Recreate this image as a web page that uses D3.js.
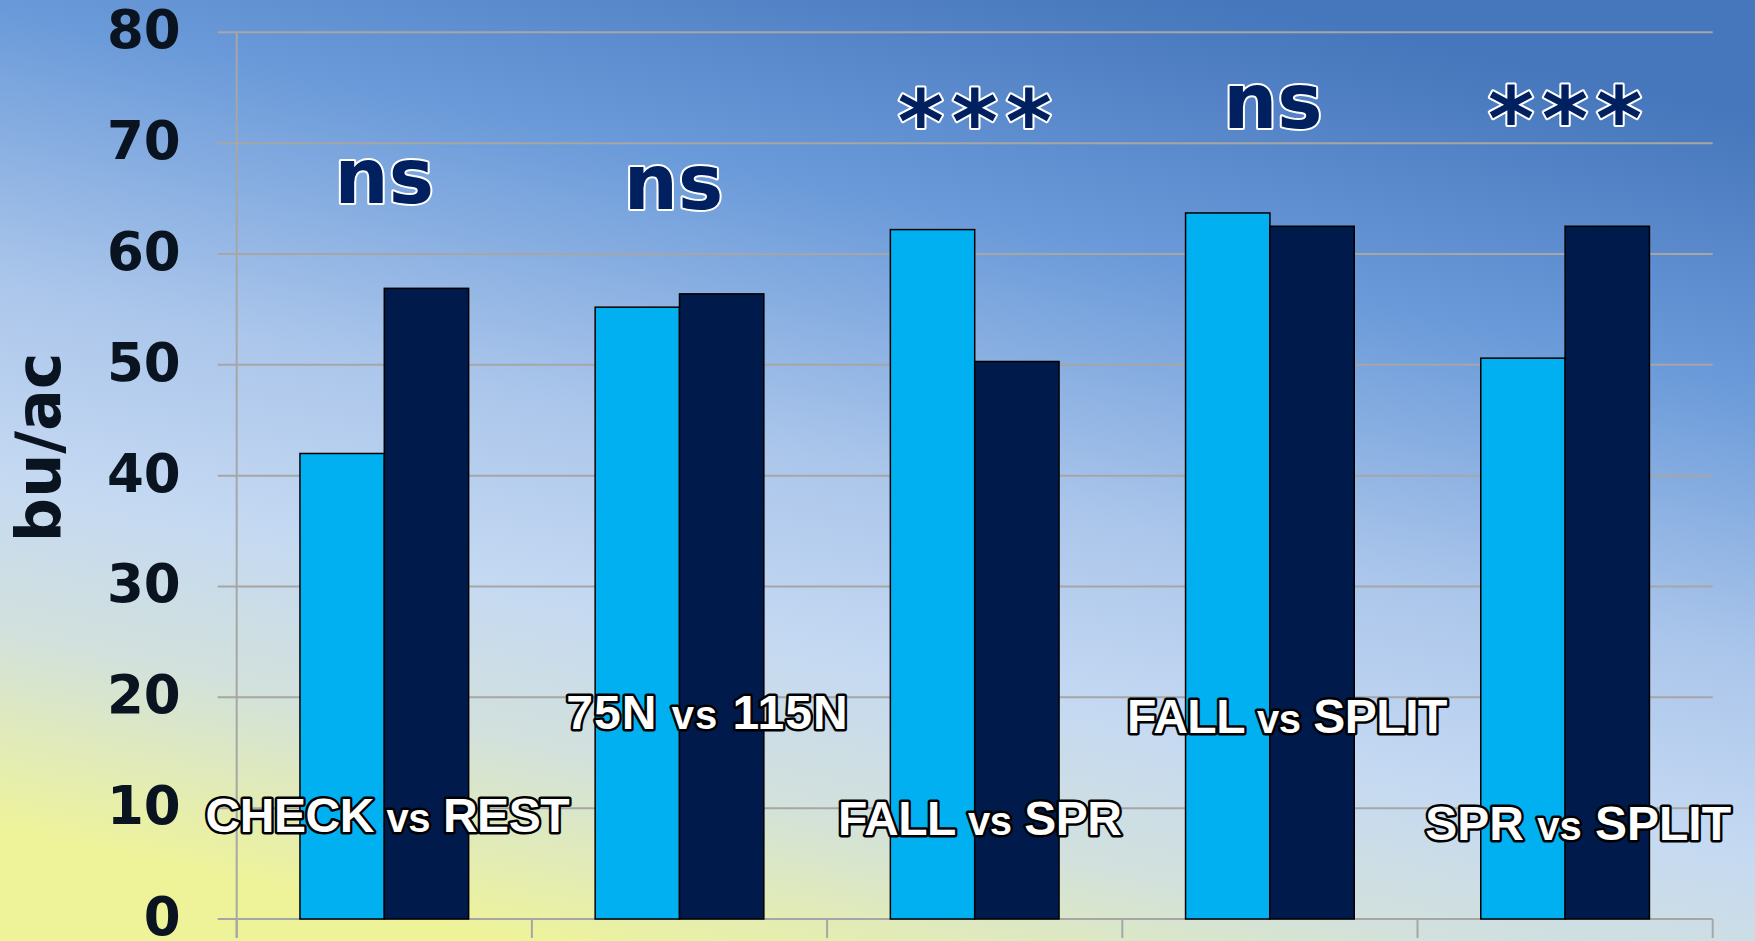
<!DOCTYPE html>
<html>
<head>
<meta charset="utf-8">
<script src="https://cdn.jsdelivr.net/npm/d3@7"></script>
<style>
  html, body { margin: 0; padding: 0; overflow: hidden; }
  svg { display: block; }
</style>
</head>
<body>
<div class="barChart"></div>
<script>
// chart data
var categories = ["CHECK vs REST", "75N vs 115N", "FALL vs SPR", "FALL vs SPLIT", "SPR vs SPLIT"];
var firstValues = [42.0, 55.2, 62.2, 63.7, 50.6];
var secondValues = [56.9, 56.4, 50.3, 62.5, 62.5];
var significance = ["ns", "ns", "***", "ns", "***"];
var yTicks = [0, 10, 20, 30, 40, 50, 60, 70, 80];
var yTitle = "bu/ac";

document.addEventListener('DOMContentLoaded', function() {
    barChart();
})

function barChart(){

    var W = 1755, H = 941;
    var margin = {top: 32.3, right: 42.3, bottom: 22, left: 236.7},
        width = W - margin.left - margin.right,
        height = H - margin.top - margin.bottom;

    var svg = d3.select(".barChart")
        .append("svg")
            .attr("width", W)
            .attr("height", H);

    // background gradient
    var grad = svg.append("defs").append("linearGradient")
        .attr("id", "bg")
        .attr("x1", 0.7).attr("y1", 0)
        .attr("x2", 0.3).attr("y2", 1);
    [[0, "#4676bb"], [0.25, "#6a9ad9"], [0.5, "#abc6eb"], [0.68, "#c5d9f2"],
     [0.82, "#d2e1dc"], [1, "#eef39a"]].forEach(function(s) {
        grad.append("stop").attr("offset", s[0]).attr("stop-color", s[1]);
    });
    svg.append("rect").attr("width", W).attr("height", H).attr("fill", "url(#bg)");

    var g = svg.append("g")
        .attr("transform", "translate(" + margin.left + "," + margin.top + ")");

    var x = d3.scaleBand()
        .domain(categories)
        .range([0, width]);

    var xSub = d3.scaleBand()
        .domain([0, 1])
        .range([0, x.bandwidth()])
        .paddingOuter(0.75);

    var y = d3.scaleLinear()
        .domain([0, 80])
        .range([height, 0]);

    var gridColor = "#a6a6a6";

    // gridlines with small outer ticks
    g.append("g").selectAll("line")
        .data(yTicks)
        .join("line")
            .attr("x1", -19)
            .attr("x2", width)
            .attr("y1", function(d) { return y(d); })
            .attr("y2", function(d) { return y(d); })
            .attr("stroke", gridColor)
            .attr("stroke-width", 2);

    // vertical axis line
    g.append("line")
        .attr("x1", 0).attr("x2", 0)
        .attr("y1", y(80)).attr("y2", height + 19)
        .attr("stroke", gridColor)
        .attr("stroke-width", 2);

    // category boundary ticks
    var bounds = categories.map(function(c) { return x(c); }).concat([width]);
    g.append("g").selectAll("line")
        .data(bounds)
        .join("line")
            .attr("x1", function(d) { return d; })
            .attr("x2", function(d) { return d; })
            .attr("y1", height)
            .attr("y2", height + 19)
            .attr("stroke", gridColor)
            .attr("stroke-width", 2);

    // Y axis labels
    var yAxis = g.append("g")
        .attr("class", "y axis")
        .call(d3.axisLeft(y).tickValues(yTicks).tickSize(0).tickPadding(56));
    yAxis.select(".domain").remove();
    yAxis.selectAll("text")
        .attr("fill", "#0a1420")
        .style("font-family", "'DejaVu Sans', sans-serif")
        .style("font-weight", "bold")
        .style("font-size", "53px")
        .attr("dy", "0.29em");

    svg.append("text")
        .attr("transform", "translate(60," + (margin.top + 415) + ") rotate(-90)")
        .attr("text-anchor", "middle")
        .attr("fill", "#0a1420")
        .style("font-family", "'DejaVu Sans', sans-serif")
        .style("font-weight", "bold")
        .style("font-size", "62px")
        .text(yTitle);

    // bars
    var colors = ["#00b0f0", "#001a4b"];
    var groups = g.append("g").selectAll("g")
        .data(categories)
        .join("g")
            .attr("transform", function(d) { return "translate(" + x(d) + ",0)"; });

    groups.selectAll("rect")
        .data(function(d, i) { return [firstValues[i], secondValues[i]]; })
        .join("rect")
            .attr("x", function(d, j) { return xSub(j); })
            .attr("y", function(d) { return y(d); })
            .attr("width", xSub.bandwidth())
            .attr("height", function(d) { return height - y(d); })
            .attr("fill", function(d, j) { return colors[j]; })
            .attr("stroke", "#000")
            .attr("stroke-width", 1.5);

    // significance marks above each pair
    var sigShift = [0, -6, 4, 3, 4];
    g.append("g").selectAll("text")
        .data(significance)
        .join("text")
            .attr("x", function(d, i) { return x(categories[i]) + x.bandwidth() / 2 + sigShift[i]; })
            .attr("y", function(d, i) {
                var top = Math.max(firstValues[i], secondValues[i]);
                return y(top + (d === "ns" ? 7.7 : 7.0));
            })
            .attr("text-anchor", "middle")
            .attr("fill", "#002060")
            .attr("stroke", "#fff")
            .attr("stroke-width", 4)
            .attr("paint-order", "stroke")
            .attr("stroke-linejoin", "round")
            .style("font-family", "'DejaVu Sans', sans-serif")
            .style("font-weight", "bold")
            .style("font-size", function(d) { return d === "ns" ? "76px" : "88px"; })
            .style("letter-spacing", function(d) { return d === "ns" ? "0px" : "8px"; })
            .text(function(d) { return d; });

    // category labels, placed inside the plot like the original slide
    var labelShift = [3, 28, 5, 17, 13];
    var labelLevel = [7.85, 17.1, 7.6, 16.8, 7.1];
    var labelSpacing = [-0.5, 1, -0.5, -0.5, 0];
    var labels = g.append("g").selectAll("text")
        .data(categories)
        .join("text")
            .attr("x", function(d, i) { return x(d) + x.bandwidth() / 2 + labelShift[i]; })
            .attr("y", function(d, i) { return y(labelLevel[i]); })
            .attr("text-anchor", "middle")
            .attr("fill", "#fff")
            .attr("stroke", "#000")
            .attr("stroke-width", 5)
            .attr("paint-order", "stroke")
            .attr("stroke-linejoin", "round")
            .style("font-family", "'Liberation Sans', Arial, sans-serif")
            .style("font-weight", "bold")
            .style("font-size", "48px")
            .style("letter-spacing", function(d, i) { return labelSpacing[i] + "px"; });

    labels.each(function(d) {
        var parts = d.split(" vs ");
        var t = d3.select(this);
        t.append("tspan").text(parts[0] + " ");
        t.append("tspan").style("font-size", "40px").text("vs");
        t.append("tspan").text(" " + parts[1]);
    });
}
</script>
</body>
</html>
